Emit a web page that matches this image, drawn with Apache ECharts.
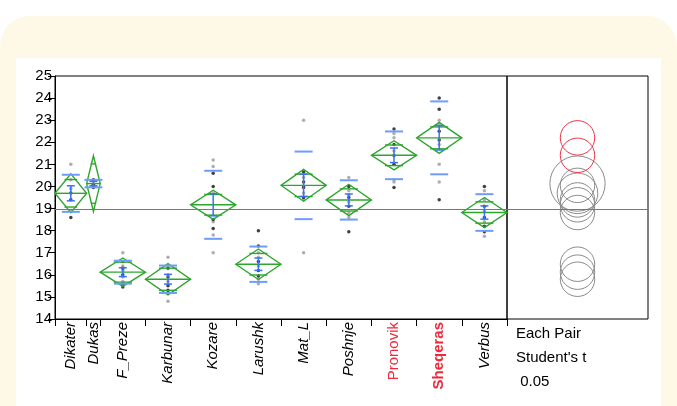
<!DOCTYPE html>
<html>
<head>
<meta charset="utf-8">
<script src="https://cdn.jsdelivr.net/npm/echarts@6/dist/echarts.min.js"></script>
<style>
  html, body { margin: 0; padding: 0; background: #fff; overflow: hidden; }
  #frame { position: absolute; left: 0; top: 16px; width: 677px; height: 420px; background: #fef9e6; border-radius: 30px 30px 0 0; }
  #panel { position: absolute; left: 16px; top: 58px; width: 645px; height: 348px; background: #fff; }
  #chart { position: absolute; left: 0; top: 0; width: 677px; height: 406px; }
</style>
</head>
<body>
<div id="frame"></div>
<div id="panel"></div>
<div id="chart"></div>
<script>
// values
const categories = ["Dikater", "Dukas", "F_Preze", "Karbunar", "Kozare", "Larushk", "Mat_L", "Poshnje", "Pronovik", "Sheqeras", "Verbus"];
const counts = [7, 3, 10, 10, 10, 10, 10, 10, 10, 10, 10];
const means = [19.69, 20.13, 16.12, 15.80, 19.17, 16.48, 20.05, 19.39, 21.41, 22.20, 18.82];
const ciHalf = [0.88, 1.26, 0.64, 0.71, 0.66, 0.69, 0.72, 0.71, 0.66, 0.70, 0.68];
const stdDev = [0.84, 0.17, 0.52, 0.62, 1.54, 0.80, 1.53, 0.89, 1.08, 1.65, 0.83];
const stdErr = [0.34, 0.10, 0.20, 0.22, 0.50, 0.28, 0.50, 0.27, 0.33, 0.55, 0.30];
const circleRadius = [0.92, 1.25, 0.78, 0.78, 0.78, 0.78, 0.78, 0.78, 0.78, 0.78, 0.78];
const grandMean = 18.95;
const highlighted = ["Pronovik", "Sheqeras"];
const selectedName = "Sheqeras";

const grayPoints = [
  [21.0, 20.3, 19.9, 18.9],
  [],
  [17.0, 16.4, 16.2, 15.9, 15.7],
  [16.8, 16.4, 16.0, 15.7, 15.2, 14.8],
  [21.2, 20.9, 19.7, 18.4, 17.8, 17.0],
  [17.0, 16.8, 16.4, 15.8, 15.6],
  [23.0, 20.4, 20.0, 19.7, 19.4, 17.0],
  [20.4, 19.8, 19.6, 19.3, 18.8, 18.6],
  [22.4, 22.2, 21.6, 20.3, 20.2],
  [23.0, 22.8, 21.9, 21.0, 20.2],
  [19.8, 19.4, 18.9, 18.4, 17.75]
];
const blackPoints = [
  [19.7, 19.4, 18.6],
  [20.3, 20.1, 19.95],
  [16.6, 16.3, 16.0, 15.6, 15.45],
  [16.3, 15.9, 15.5, 15.3],
  [20.6, 20.0, 18.5, 18.1],
  [18.0, 17.3, 16.6, 16.2, 15.95],
  [20.65, 20.2, 19.95, 19.5],
  [20.0, 19.5, 19.1, 17.95],
  [22.6, 21.9, 21.4, 21.0, 19.95],
  [24.0, 23.5, 22.5, 22.1, 19.4],
  [20.0, 19.1, 18.6, 18.2, 17.95]
];
const yMin = 14, yMax = 25;
const tableLines = ["Each Pair", "Student's t", " 0.05"];

const FONT = "'Liberation Sans', Arial, sans-serif";

// group boundaries along the x axis, widths follow group size
const starts = [];
counts.reduce((acc, n) => { starts.push(acc); return acc + n; }, 0);
const total = counts.reduce((a, b) => a + b, 0);
const boundaries = starts.concat([total]);
const centers = starts.map((s, i) => s + counts[i] / 2);

const groupData = categories.map((c, i) => [starts[i], starts[i] + counts[i], means[i], ciHalf[i], stdDev[i], stdErr[i]]);

function pointData(lists) {
  const out = [];
  lists.forEach((vals, i) => vals.forEach(v => out.push([centers[i], v])));
  return out;
}

function renderGroup(params, api) {
  const x0 = api.value(0), x1 = api.value(1);
  const m = api.value(2), h = api.value(3), sd = api.value(4), se = api.value(5);
  const xc = (x0 + x1) / 2;
  const left = api.coord([x0, m]);
  const right = api.coord([x1, m]);
  const top = api.coord([xc, m + h]);
  const bottom = api.coord([xc, m - h]);
  const cx = top[0];
  const w = right[0] - left[0];
  const yOf = v => api.coord([xc, v])[1];
  const green = () => ({ stroke: "#2ea62e", lineWidth: 1.4, fill: null });
  const hline = (y, half, style) => ({ type: "line", shape: { x1: cx - half, y1: y, x2: cx + half, y2: y }, style });
  const children = [];

  children.push({ type: "polygon", shape: { points: [left, top, right, bottom] }, style: green() });
  children.push(hline(left[1], w / 2, green()));
  const ov = h / Math.SQRT2;
  children.push(hline(yOf(m + ov), w * 0.2, green()));
  children.push(hline(yOf(m - ov), w * 0.2, green()));

  // std dev lines
  children.push(hline(yOf(m + sd), 9, { stroke: "#6f9bff", lineWidth: 2 }));
  children.push(hline(yOf(m - sd), 9, { stroke: "#6f9bff", lineWidth: 2 }));

  // mean error bar
  const yt = yOf(m + se), yb = yOf(m - se);
  children.push({ type: "line", shape: { x1: cx, y1: yt, x2: cx, y2: yb }, style: { stroke: "#3a72f2", lineWidth: 1.5 } });
  children.push(hline(yt, 4, { stroke: "#3a72f2", lineWidth: 1.5 }));
  children.push(hline(yb, 4, { stroke: "#3a72f2", lineWidth: 1.5 }));

  return { type: "group", children };
}

function renderCircle(params, api) {
  const i = params.dataIndex;
  const c = api.coord([0.5, api.value(0)]);
  const r = api.size([0, api.value(1)])[1];
  const red = highlighted.indexOf(categories[i]) >= 0;
  return {
    type: "circle",
    shape: { cx: c[0], cy: c[1], r },
    style: { stroke: red ? "#ee3344" : "#8a8a8a", fill: null, lineWidth: 1 }
  };
}

const meanLine = {
  silent: true,
  symbol: "none",
  label: { show: false },
  lineStyle: { color: "#777", width: 1, type: "solid" },
  data: [{ yAxis: grandMean }]
};

const chart = echarts.init(document.getElementById("chart"), null, { renderer: "canvas" });

chart.setOption({
  backgroundColor: "transparent",
  animation: false,
  textStyle: { fontFamily: FONT },
  grid: [
    { left: 55, right: 170, top: 76, bottom: 87, show: true, borderColor: "#000", borderWidth: 1 },
    { left: 507, right: 29, top: 76, bottom: 87, show: true, borderColor: "#000", borderWidth: 1 }
  ],
  xAxis: [
    {
      type: "value",
      gridIndex: 0,
      min: 0,
      max: total,
      splitLine: { show: false },
      axisLine: { lineStyle: { color: "#000", width: 1 } },
      axisTick: { customValues: boundaries, length: 7, lineStyle: { color: "#000" } },
      axisLabel: {
        customValues: centers,
        rotate: 90,
        margin: 3,
        formatter: value => {
          let idx = 0;
          centers.forEach((c, i) => { if (Math.abs(c - value) < Math.abs(centers[idx] - value)) idx = i; });
          const name = categories[idx];
          if (name === selectedName) return "{b|" + name + "}";
          if (highlighted.indexOf(name) >= 0) return "{r|" + name + "}";
          return "{n|" + name + "}";
        },
        rich: {
          n: { fontStyle: "italic", color: "#000", fontSize: 15, fontFamily: FONT },
          r: { color: "#ee2a3c", fontSize: 15, fontFamily: FONT },
          b: { color: "#ee2a3c", fontSize: 15, fontWeight: "bold", fontFamily: FONT }
        }
      }
    },
    { type: "value", gridIndex: 1, min: 0, max: 1, show: false }
  ],
  yAxis: [
    {
      type: "value",
      gridIndex: 0,
      min: yMin,
      max: yMax,
      interval: 1,
      splitLine: { show: false },
      axisLine: { show: true, lineStyle: { color: "#000", width: 1 } },
      axisTick: { show: true, length: 7, lineStyle: { color: "#000" } },
      axisLabel: { color: "#000", fontSize: 15, margin: 3, fontFamily: FONT }
    },
    { type: "value", gridIndex: 1, min: yMin, max: yMax, show: false }
  ],
  graphic: tableLines.map((t, i) => ({
    type: "text",
    left: 516,
    top: 326 + i * 24,
    style: { text: t, fill: "#000", font: "15px " + FONT }
  })),
  series: [
    {
      type: "scatter",
      xAxisIndex: 0,
      yAxisIndex: 0,
      symbolSize: 3.5,
      itemStyle: { color: "#9a9a9a" },
      data: pointData(grayPoints),
      markLine: meanLine,
      z: 2
    },
    {
      type: "scatter",
      xAxisIndex: 0,
      yAxisIndex: 0,
      symbolSize: 3.5,
      itemStyle: { color: "#111" },
      data: pointData(blackPoints),
      z: 2
    },
    {
      type: "custom",
      xAxisIndex: 0,
      yAxisIndex: 0,
      renderItem: renderGroup,
      data: groupData,
      z: 3
    },
    {
      type: "custom",
      xAxisIndex: 1,
      yAxisIndex: 1,
      renderItem: renderCircle,
      data: means.map((m, i) => [m, circleRadius[i]]),
      markLine: meanLine,
      z: 3
    }
  ]
});
</script>
</body>
</html>
